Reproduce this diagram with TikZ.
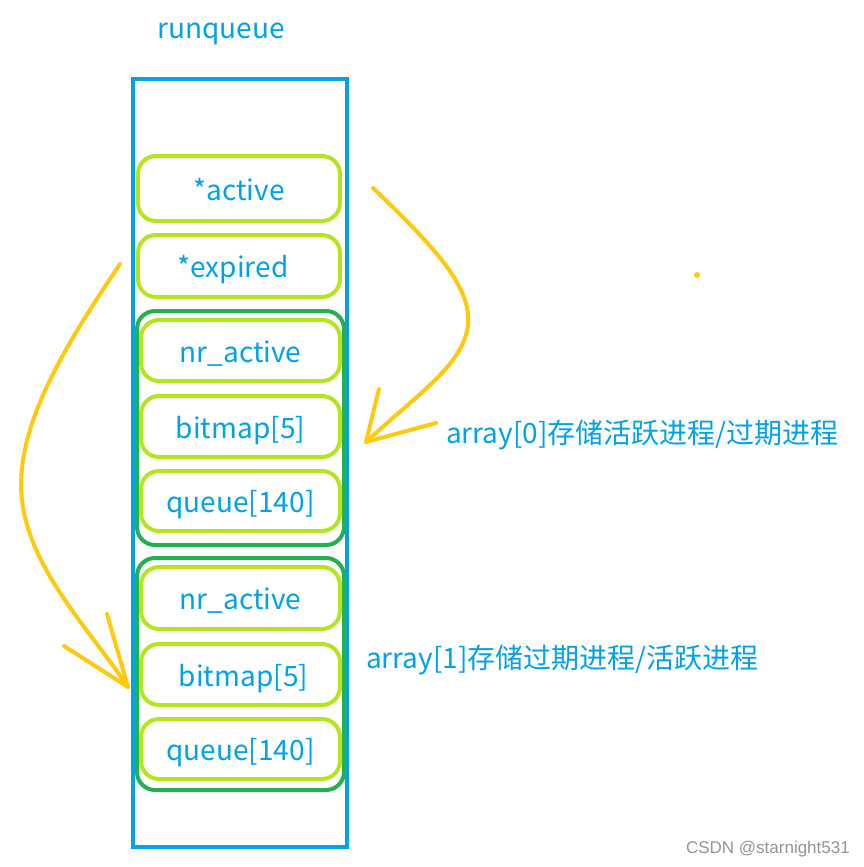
\documentclass[tikz,border=0pt]{standalone}
\usepackage{fontspec}
\setmainfont{Noto Sans CJK SC}
\newfontfamily\wmfont{Liberation Sans}
\definecolor{qblue}{HTML}{00A2E8}
\definecolor{lgreen}{HTML}{B5E61D}
\definecolor{dgreen}{HTML}{22B14C}
\definecolor{qorange}{HTML}{FFC90E}
\tikzset{
  txt/.style={text=qblue, font=\fontsize{28}{30}\selectfont, inner sep=0pt},
  cell/.style={draw=lgreen, line width=4pt, rounded corners=18pt, inner sep=0pt,
     text=qblue, font=\fontsize{28}{30}\selectfont, text height=27pt, text depth=4pt},
  group/.style={draw=dgreen, line width=4pt, rounded corners=18pt, inner sep=0pt},
  queuebox/.style={draw=qblue, line width=4pt, inner sep=0pt},
  freearrow/.style={draw=qorange, line width=4pt, line cap=round, line join=round},
}
\begin{document}
\begin{tikzpicture}[x=1pt, y=-1pt]
\useasboundingbox (0,0) rectangle (864,867);
\fill[white] (0,0) rectangle (864,867);
% outer runqueue box
\node[queuebox, minimum width=214pt, minimum height=768pt] (rq) at (240,463) {};
\node[txt, anchor=base] (rqlabel) at (221,38) {runqueue};
% pointers
\node[cell, minimum width=202pt, minimum height=65pt] (active) at (239,188.5) {*active};
\node[cell, minimum width=202pt, minimum height=62pt] (expired) at (239,266) {\hspace*{-12pt}*expired};
% array 0
\node[group, minimum width=207pt, minimum height=234pt] (arr0) at (240.5,428) {};
\node[cell, minimum width=199pt, minimum height=61pt] (nr0) at (240.5,350.5) {nr\_active};
\node[cell, minimum width=199pt, minimum height=61pt] (bm0) at (240.5,426.5) {bitmap[5]};
\node[cell, minimum width=199pt, minimum height=60pt] (q0) at (240.5,501) {queue[140]};
% array 1
\node[group, minimum width=207pt, minimum height=232pt] (arr1) at (240.5,674) {};
\node[cell, minimum width=199pt, minimum height=62pt] (nr1) at (240.5,598) {nr\_active};
\node[cell, minimum width=199pt, minimum height=61pt] (bm1) at (240.5,674.5) {\hspace*{6pt}bitmap[5]};
\node[cell, minimum width=199pt, minimum height=60pt] (q1) at (240.5,749) {queue[140]};
% labels
\node[txt, anchor=base west] (lab0) at (446,443) {array[0]存储活跃进程/过期进程};
\node[txt, anchor=base west] (lab1) at (366,668) {array[1]存储过期进程/活跃进程};
\node[text=black!42, font=\wmfont\fontsize{17}{19}\selectfont, anchor=base east, inner sep=0pt] (wm) at (850,853) {CSDN @starnight531};
% freehand arrows
\coordinate (a0s) at (373,188);
\coordinate (a0t) at (366,442);
\coordinate (a0h1) at (379,389);
\coordinate (a0h2) at (436,423);
\path[freearrow] (a0s) .. controls (430,243) and (472,285) .. (468,325)
   .. controls (463,365) and (420,392) .. (a0t);
\path[freearrow] (a0h1) -- (a0t) -- (a0h2);
\coordinate (a1s) at (120,264);
\coordinate (a1t) at (128,687);
\coordinate (a1h1) at (107,614);
\coordinate (a1h2) at (64,646);
\path[freearrow] (a1s) .. controls (62,350) and (14,430) .. (22,500)
   .. controls (30,570) and (90,630) .. (a1t);
\path[freearrow] (a1h1) -- (a1t) -- (a1h2);
\fill[qorange] (697,275) circle (3pt);
\end{tikzpicture}
\end{document}
